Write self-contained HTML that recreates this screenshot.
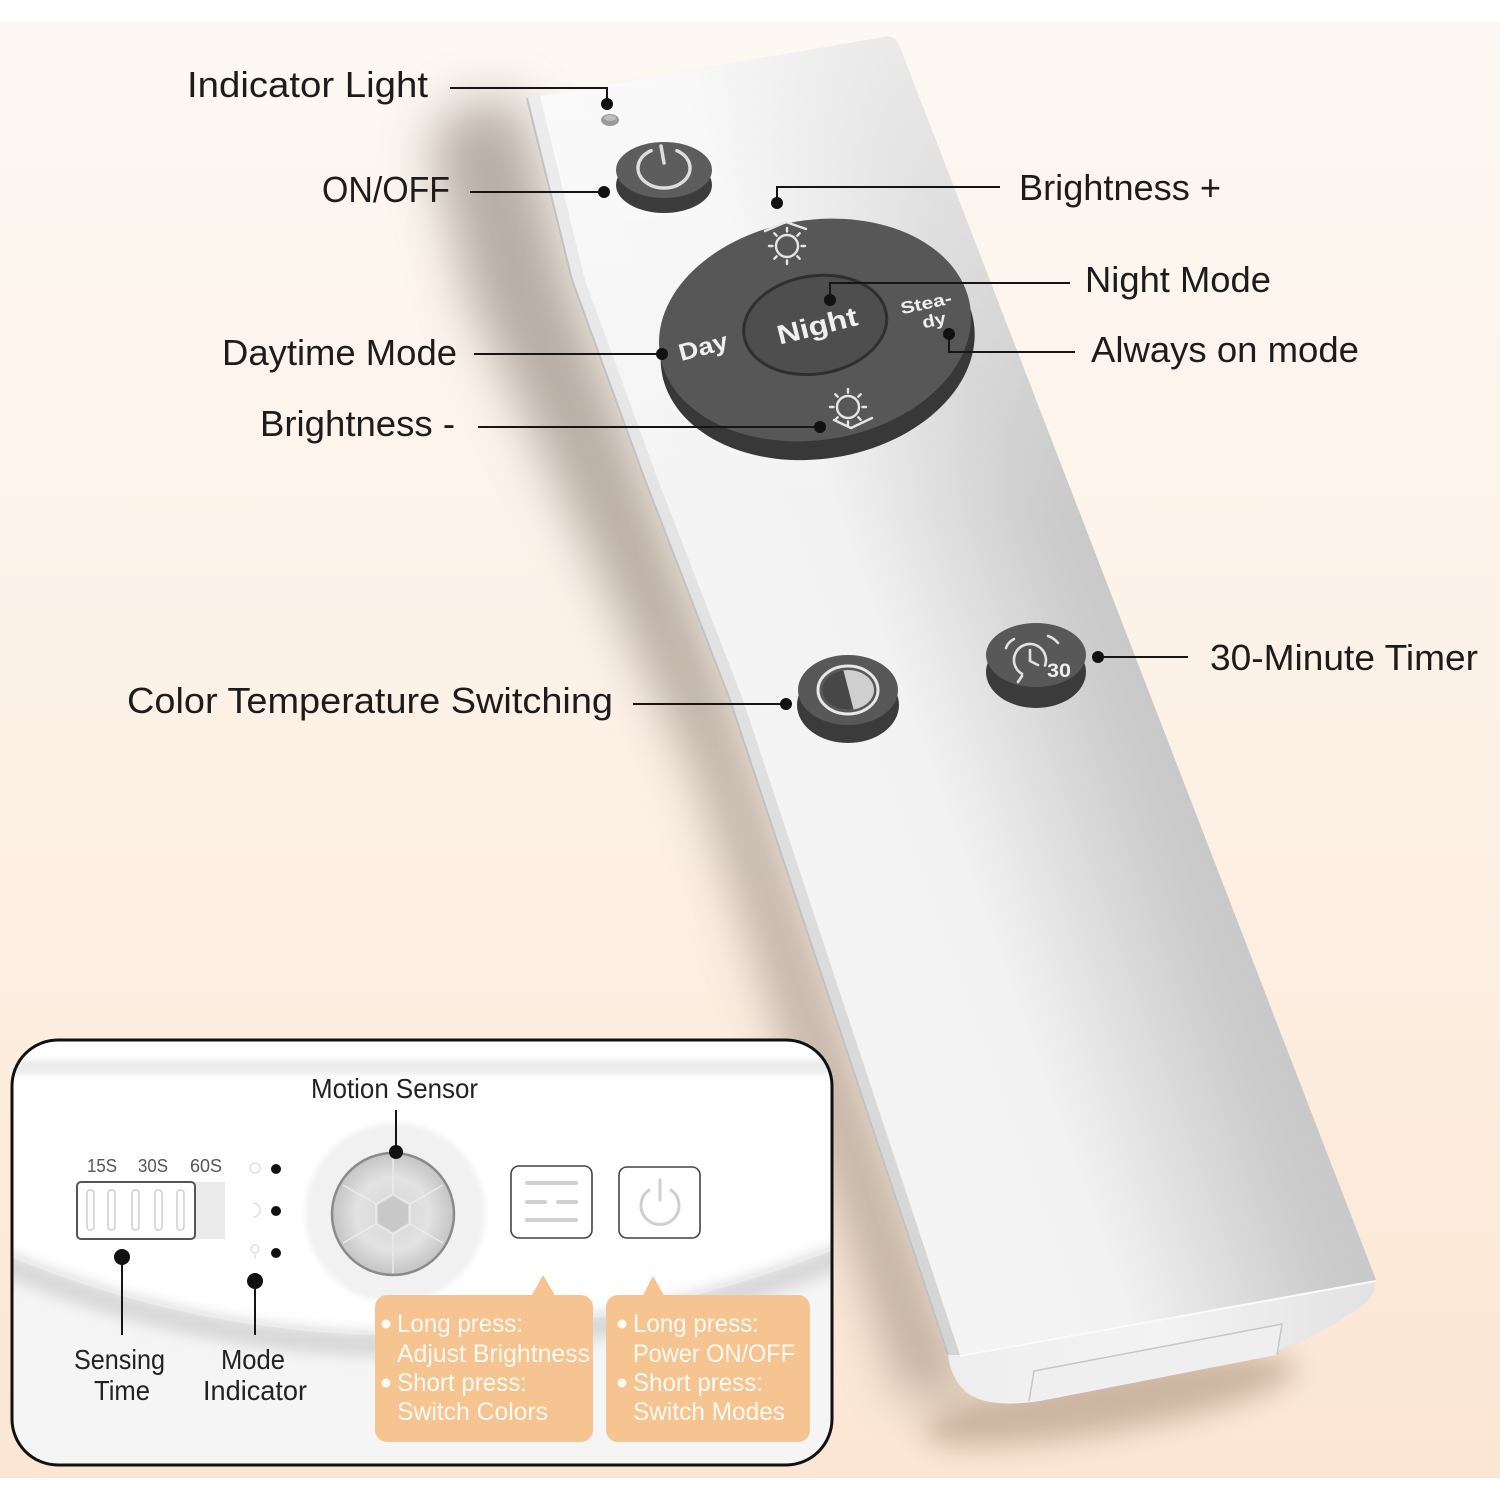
<!DOCTYPE html>
<html><head><meta charset="utf-8">
<style>
html,body{margin:0;padding:0;background:#fff;}
svg{display:block;}
text{font-family:"Liberation Sans","Noto Sans CJK JP",sans-serif;}
</style></head><body>
<svg width="1500" height="1500" viewBox="0 0 1500 1500" xmlns="http://www.w3.org/2000/svg">
<defs>
 <linearGradient id="bg" x1="0" y1="0" x2="0" y2="1">
  <stop offset="0" stop-color="#fdf8f3"/>
  <stop offset="0.5" stop-color="#fdf1e6"/>
  <stop offset="1" stop-color="#fbe6d3"/>
 </linearGradient>
 <linearGradient id="face" gradientUnits="userSpaceOnUse" x1="743" y1="700" x2="1101" y2="570">
  <stop offset="0" stop-color="#f4f4f4"/>
  <stop offset="0.4" stop-color="#f2f2f2"/>
  <stop offset="0.68" stop-color="#dddddd"/>
  <stop offset="0.88" stop-color="#cecece"/>
  <stop offset="1" stop-color="#c9c9c9"/>
 </linearGradient>
 <linearGradient id="glow" gradientUnits="userSpaceOnUse" x1="0" y1="40" x2="0" y2="520">
  <stop offset="0" stop-color="#ffffff" stop-opacity="0.6"/>
  <stop offset="1" stop-color="#ffffff" stop-opacity="0"/>
 </linearGradient>
 <linearGradient id="side" x1="0" y1="0" x2="0" y2="1">
  <stop offset="0" stop-color="#eeeeee"/>
  <stop offset="1" stop-color="#d3d3d3"/>
 </linearGradient>
 <linearGradient id="cap" gradientUnits="userSpaceOnUse" x1="950" y1="0" x2="1376" y2="0">
  <stop offset="0" stop-color="#eeeeee"/>
  <stop offset="0.5" stop-color="#f3f3f3"/>
  <stop offset="1" stop-color="#e2e2e2"/>
 </linearGradient>
 <radialGradient id="lens" cx="0.5" cy="0.5" r="0.5">
  <stop offset="0" stop-color="#d6d6d6"/>
  <stop offset="0.6" stop-color="#e2e2e2"/>
  <stop offset="1" stop-color="#c4c4c4"/>
 </radialGradient>
 <filter id="b28" x="-50%" y="-50%" width="200%" height="200%"><feGaussianBlur stdDeviation="26"/></filter>
 <filter id="b14" x="-50%" y="-50%" width="200%" height="200%"><feGaussianBlur stdDeviation="14"/></filter>
 <filter id="b7" x="-50%" y="-50%" width="200%" height="200%"><feGaussianBlur stdDeviation="7"/></filter>
 <filter id="b3" x="-50%" y="-50%" width="200%" height="200%"><feGaussianBlur stdDeviation="3"/></filter>
 <clipPath id="boxclip"><rect x="12" y="1040" width="820" height="425" rx="46"/></clipPath>
 <clipPath id="ctclip"><ellipse cx="848" cy="690" rx="26" ry="20"/></clipPath>
 <g id="sun" fill="none" stroke="#e6e6e6" stroke-width="2.4" stroke-linecap="round">
  <circle r="11"/>
  <line x1="14.5" y1="0" x2="18" y2="0"/>
  <line x1="10.3" y1="10.3" x2="12.7" y2="12.7"/>
  <line x1="0" y1="14.5" x2="0" y2="18"/>
  <line x1="-10.3" y1="10.3" x2="-12.7" y2="12.7"/>
  <line x1="-14.5" y1="0" x2="-18" y2="0"/>
  <line x1="-10.3" y1="-10.3" x2="-12.7" y2="-12.7"/>
  <line x1="0" y1="-14.5" x2="0" y2="-18"/>
  <line x1="10.3" y1="-10.3" x2="12.7" y2="-12.7"/>
 </g>
</defs>

<!-- background -->
<rect x="0" y="0" width="1500" height="1500" fill="#ffffff"/>
<rect x="0" y="22" width="1500" height="1456" fill="url(#bg)"/>

<!-- remote shadows -->
<polygon points="520,100 570,280 645,480 730,700 948,1355 985,1400 905,1395 700,780 585,540 470,300 430,140 460,105" fill="#7e7166" opacity="0.55" filter="url(#b28)"/>
<ellipse cx="1110" cy="1400" rx="190" ry="32" transform="rotate(-10 1110 1400)" fill="#a58d76" opacity="0.55" filter="url(#b14)"/>

<!-- remote body -->
<path d="M527,98 L885,37 Q895,35 899,45 L1376,1280 Q1375,1296 1362,1306 Q1305,1345 1250,1360 L1040,1401 Q985,1409 965,1391 Q951,1378 948,1355 L730,700 L645,480 L572,280 Z" fill="url(#side)"/>
<path d="M527,98 L572,280 L645,480 L730,700 L948,1355" fill="none" stroke="#c2c2c2" stroke-width="2"/>
<path d="M540,96 L885,37 Q895,35 899,45 L1376,1280 L960,1355 L743,700 L658,480 L585,280 Z" fill="url(#face)"/>
<path d="M540,96 L885,37 Q895,35 899,45 L1376,1280 L960,1355 L743,700 L658,480 L585,280 Z" fill="url(#glow)"/>
<!-- end cap -->
<path d="M960,1355 L1376,1280 Q1375,1296 1362,1306 Q1305,1345 1250,1360 L1040,1401 Q985,1409 965,1391 Q951,1378 948,1355 Z" fill="url(#cap)"/>
<path d="M960,1356 L1376,1281" stroke="#fafafa" stroke-width="2"/>
<path d="M1029,1401 L1034,1371 L1282,1324 L1277,1355" fill="#efefef" stroke="#c6c6c6" stroke-width="1.5"/>

<!-- LED -->
<ellipse cx="610" cy="120" rx="9" ry="6" fill="#9a9a9a"/>
<ellipse cx="610" cy="118" rx="6" ry="3" fill="#bdbdbd"/>

<!-- power button -->
<ellipse cx="664" cy="185" rx="48" ry="28" fill="#3c3c3c"/>
<ellipse cx="664" cy="170" rx="48" ry="28" fill="#5d5d5d"/>
<path d="M677,150.7 A26,20 0 1 1 651,150.7" fill="none" stroke="#dedede" stroke-width="3.5" stroke-linecap="round"/>
<path d="M661,146 L664,163" stroke="#dedede" stroke-width="3.5" stroke-linecap="round"/>

<!-- D-pad -->
<g transform="rotate(-9 815 330)">
 <ellipse cx="815" cy="347" rx="158" ry="112" fill="#383838"/>
 <ellipse cx="815" cy="330" rx="157" ry="110" fill="#575757"/>
 <ellipse cx="816" cy="325" rx="72" ry="49" fill="#4e4e4e" stroke="#2f2f2f" stroke-width="3"/>
</g>
<use href="#sun" transform="translate(787,246)"/>
<polyline points="765,231 786,222 806,229" fill="none" stroke="#e6e6e6" stroke-width="2.4" stroke-linecap="round"/>
<use href="#sun" transform="translate(848,407)"/>
<polyline points="834,420 851,428 872,418" fill="none" stroke="#e6e6e6" stroke-width="2.4" stroke-linecap="round"/>
<text x="817" y="335" text-anchor="middle" font-size="27" font-weight="700" fill="#f0f0f0" textLength="82" lengthAdjust="spacingAndGlyphs" transform="rotate(-14 817 325)">Night</text>
<text x="703" y="355" text-anchor="middle" font-size="24" font-weight="700" fill="#f0f0f0" textLength="50" lengthAdjust="spacingAndGlyphs" transform="rotate(-15 703 346)">Day</text>
<text x="926" y="309" text-anchor="middle" font-size="17" font-weight="700" fill="#f0f0f0" textLength="52" lengthAdjust="spacingAndGlyphs" transform="rotate(-12 926 303)">Stea-</text>
<text x="934" y="326" text-anchor="middle" font-size="17" font-weight="700" fill="#f0f0f0" textLength="24" lengthAdjust="spacingAndGlyphs" transform="rotate(-12 934 320)">dy</text>

<!-- colour temperature button -->
<ellipse cx="848" cy="705" rx="51" ry="38" fill="#3b3b3b"/>
<ellipse cx="848" cy="690" rx="50" ry="35" fill="#585858"/>
<ellipse cx="848" cy="690" rx="30" ry="24" fill="none" stroke="#e8e8e8" stroke-width="3"/>
<ellipse cx="848" cy="690" rx="26" ry="20" fill="#cfcfcf"/>
<g clip-path="url(#ctclip)"><polygon points="842,665 855,715 800,715 800,665" fill="#474747"/></g>

<!-- timer button -->
<ellipse cx="1036" cy="672" rx="50" ry="36" fill="#3b3b3b"/>
<ellipse cx="1036" cy="655" rx="50" ry="32" fill="#585858"/>
<g fill="none" stroke="#e2e2e2" stroke-width="2.6" stroke-linecap="round">
 <path d="M1045,665.5 A16,16 0 1 0 1022,673.9"/>
 <path d="M1030,650 L1030,661 L1038,665"/>
 <path d="M1006,648 Q1008,642 1014,639"/>
 <path d="M1048,636 Q1054,638 1058,643"/>
 <path d="M1022,676 L1018,682"/>
</g>
<text x="1047" y="677" font-size="19" font-weight="700" fill="#eeeeee" textLength="24" lengthAdjust="spacingAndGlyphs">30</text>

<!-- connectors -->
<g fill="none" stroke="#151515" stroke-width="2">
 <polyline points="450,88 607,88 607,104"/>
 <polyline points="470,192 604,192"/>
 <polyline points="1000,187 777,187 777,203"/>
 <polyline points="1070,283 830,283 830,300"/>
 <polyline points="1075,352 949,352 949,334"/>
 <polyline points="474,354 662,354"/>
 <polyline points="478,427 820,427"/>
 <polyline points="633,704 786,704"/>
 <polyline points="1098,657 1188,657"/>
</g>
<g fill="#111">
 <circle cx="607" cy="104" r="6"/>
 <circle cx="604" cy="192" r="6"/>
 <circle cx="777" cy="203" r="6"/>
 <circle cx="830" cy="300" r="6"/>
 <circle cx="949" cy="334" r="6"/>
 <circle cx="662" cy="354" r="6"/>
 <circle cx="820" cy="427" r="6"/>
 <circle cx="786" cy="704" r="6"/>
 <circle cx="1098" cy="657" r="6"/>
</g>

<!-- labels -->
<g font-size="36" fill="#1c1c1c">
 <text x="187" y="97" textLength="241" lengthAdjust="spacingAndGlyphs">Indicator Light</text>
 <text x="322" y="202" textLength="128" lengthAdjust="spacingAndGlyphs">ON/OFF</text>
 <text x="1019" y="200" textLength="202" lengthAdjust="spacingAndGlyphs">Brightness +</text>
 <text x="1085" y="292" textLength="186" lengthAdjust="spacingAndGlyphs">Night Mode</text>
 <text x="1091" y="362" textLength="268" lengthAdjust="spacingAndGlyphs">Always on mode</text>
 <text x="222" y="365" textLength="235" lengthAdjust="spacingAndGlyphs">Daytime Mode</text>
 <text x="260" y="436" textLength="195" lengthAdjust="spacingAndGlyphs">Brightness -</text>
 <text x="127" y="713" textLength="486" lengthAdjust="spacingAndGlyphs">Color Temperature Switching</text>
 <text x="1210" y="670" textLength="268" lengthAdjust="spacingAndGlyphs">30-Minute Timer</text>
</g>

<!-- inset box -->
<rect x="12" y="1040" width="820" height="425" rx="46" fill="#ffffff"/>
<g clip-path="url(#boxclip)">
 <rect x="12" y="1060" width="820" height="14" fill="#e6e6e6" opacity="0.8" filter="url(#b3)"/>
 <path d="M0,1252 Q400,1422 850,1243 L850,1480 L0,1480 Z" fill="#f5f5f5"/>
 <path d="M0,1262 Q400,1432 850,1253" fill="none" stroke="#d8d8d8" stroke-width="24" filter="url(#b7)"/>
 <path d="M0,1251 Q400,1421 850,1242" fill="none" stroke="#ececec" stroke-width="3"/>

 <!-- motion sensor -->
 <circle cx="395" cy="1213" r="90" fill="#f1f1f1" filter="url(#b3)"/>
 <circle cx="393" cy="1214" r="61" fill="url(#lens)" stroke="#8a8a8a" stroke-width="2.5"/>
 <g fill="none" stroke="#ededed" stroke-width="1.5" opacity="0.9">
  <polygon points="393,1194 410,1204 410,1224 393,1234 376,1224 376,1204"/>
  <line x1="393" y1="1194" x2="393" y2="1156"/>
  <line x1="410" y1="1204" x2="443" y2="1185"/>
  <line x1="410" y1="1224" x2="443" y2="1243"/>
  <line x1="393" y1="1234" x2="393" y2="1273"/>
  <line x1="376" y1="1224" x2="343" y2="1243"/>
  <line x1="376" y1="1204" x2="343" y2="1185"/>
 </g>
 <polygon points="393,1196 408,1205 408,1223 393,1232 378,1223 378,1205" fill="#c8c8c8"/>
 <line x1="396" y1="1110" x2="396" y2="1152" stroke="#151515" stroke-width="2"/>
 <circle cx="396" cy="1152" r="7" fill="#111"/>
 <text x="311" y="1098" font-size="28" fill="#222" textLength="167" lengthAdjust="spacingAndGlyphs">Motion Sensor</text>

 <!-- slider -->
 <g font-size="18" fill="#555">
  <text x="87" y="1172" textLength="30" lengthAdjust="spacingAndGlyphs">15S</text>
  <text x="138" y="1172" textLength="30" lengthAdjust="spacingAndGlyphs">30S</text>
  <text x="190" y="1172" textLength="32" lengthAdjust="spacingAndGlyphs">60S</text>
 </g>
 <rect x="195" y="1182" width="30" height="57" fill="#ebebeb"/>
 <rect x="77" y="1182" width="118" height="57" rx="4" fill="#ffffff" stroke="#555" stroke-width="2"/>
 <g fill="none" stroke="#cfcfcf" stroke-width="1.5">
  <rect x="87" y="1190" width="7" height="40" rx="3"/>
  <rect x="108" y="1190" width="7" height="40" rx="3"/>
  <rect x="132" y="1190" width="7" height="40" rx="3"/>
  <rect x="155" y="1190" width="7" height="40" rx="3"/>
  <rect x="177" y="1190" width="7" height="40" rx="3"/>
 </g>

 <!-- mode indicator icons -->
 <g fill="none" stroke="#e0e0e0" stroke-width="1.5">
  <circle cx="255" cy="1168" r="5"/>
  <path d="M253,1203 A7,7 0 0 1 253,1217"/>
  <circle cx="255" cy="1249" r="4"/>
  <line x1="255" y1="1254" x2="255" y2="1259"/>
 </g>
 <g fill="#111">
  <circle cx="276" cy="1169" r="5"/>
  <circle cx="276" cy="1211" r="5"/>
  <circle cx="276" cy="1253" r="5"/>
  <circle cx="122" cy="1257" r="8"/>
  <circle cx="255" cy="1281" r="8"/>
 </g>
 <line x1="122" y1="1257" x2="122" y2="1335" stroke="#151515" stroke-width="2"/>
 <line x1="255" y1="1281" x2="255" y2="1335" stroke="#151515" stroke-width="2"/>
 <g font-size="28" fill="#222">
  <text x="74" y="1369" textLength="91" lengthAdjust="spacingAndGlyphs">Sensing</text>
  <text x="94" y="1400" textLength="56" lengthAdjust="spacingAndGlyphs">Time</text>
  <text x="221" y="1369" textLength="64" lengthAdjust="spacingAndGlyphs">Mode</text>
  <text x="203" y="1400" textLength="104" lengthAdjust="spacingAndGlyphs">Indicator</text>
 </g>

 <!-- buttons -->
 <rect x="511" y="1166" width="81" height="72" rx="8" fill="#ffffff" stroke="#444" stroke-width="1.6"/>
 <g stroke="#d0d0d0" stroke-width="4" stroke-linecap="round">
  <line x1="527" y1="1183" x2="576" y2="1183"/>
  <line x1="527" y1="1202" x2="545" y2="1202"/>
  <line x1="558" y1="1202" x2="576" y2="1202"/>
  <line x1="527" y1="1220" x2="576" y2="1220"/>
 </g>
 <rect x="619" y="1167" width="81" height="71" rx="8" fill="#ffffff" stroke="#444" stroke-width="1.6"/>
 <path d="M671,1190 A19,19 0 1 1 649,1190" fill="none" stroke="#d0d0d0" stroke-width="3" stroke-linecap="round"/>
 <line x1="660" y1="1180" x2="660" y2="1200" stroke="#d0d0d0" stroke-width="3" stroke-linecap="round"/>

 <!-- orange boxes -->
 <g fill="#f6c490">
  <rect x="375" y="1295" width="218" height="147" rx="12"/>
  <polygon points="531,1297 543,1275 556,1297"/>
  <rect x="606" y="1295" width="204" height="147" rx="12"/>
  <polygon points="642,1297 653,1276 665,1297"/>
 </g>
 <g fill="#fffaf3">
  <circle cx="386" cy="1324" r="4.5"/>
  <circle cx="386" cy="1383" r="4.5"/>
  <circle cx="622" cy="1324" r="4.5"/>
  <circle cx="622" cy="1383" r="4.5"/>
 </g>
 <g font-size="25" fill="#fffaf3">
  <text x="397" y="1332" textLength="126" lengthAdjust="spacingAndGlyphs">Long press:</text>
  <text x="397" y="1362" textLength="193" lengthAdjust="spacingAndGlyphs">Adjust Brightness</text>
  <text x="397" y="1391" textLength="130" lengthAdjust="spacingAndGlyphs">Short press:</text>
  <text x="397" y="1420" textLength="151" lengthAdjust="spacingAndGlyphs">Switch Colors</text>
  <text x="633" y="1332" textLength="126" lengthAdjust="spacingAndGlyphs">Long press:</text>
  <text x="633" y="1362" textLength="162" lengthAdjust="spacingAndGlyphs">Power ON/OFF</text>
  <text x="633" y="1391" textLength="130" lengthAdjust="spacingAndGlyphs">Short press:</text>
  <text x="633" y="1420" textLength="152" lengthAdjust="spacingAndGlyphs">Switch Modes</text>
 </g>
</g>
<rect x="12" y="1040" width="820" height="425" rx="46" fill="none" stroke="#111" stroke-width="3"/>
</svg>
</body></html>
